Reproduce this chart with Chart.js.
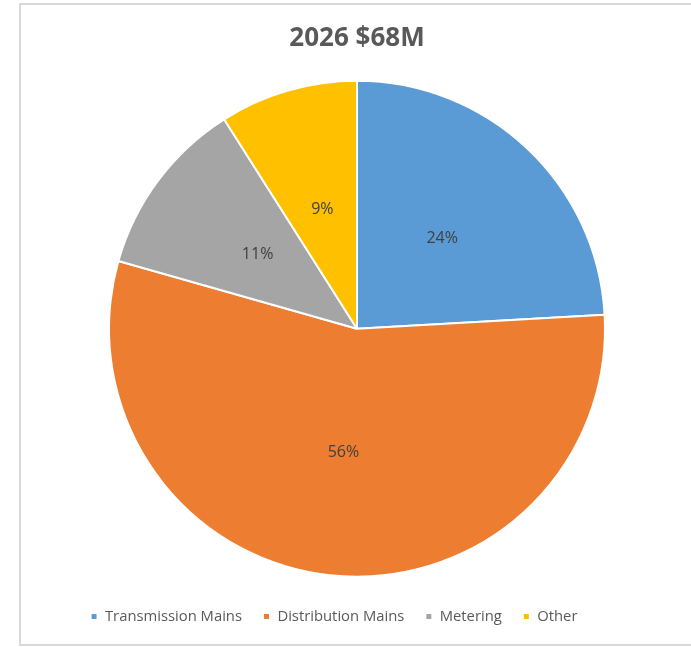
<!DOCTYPE html>
<html>
<head>
<meta charset="utf-8">
<script src="https://cdn.jsdelivr.net/npm/chart.js@4.4.1/dist/chart.umd.min.js"></script>
<style>
  html, body { margin: 0; padding: 0; background: #ffffff; }
  #frame {
    position: absolute; left: 19px; top: 3px;
    width: 672px; height: 639px;
    border: 2px solid #d9d9d9; background: #fff;
  }
  #wrap { position: absolute; left: 0; top: 0; width: 672px; height: 639px; }
</style>
</head>
<body>
<div id="frame"><div id="wrap"><canvas id="c"></canvas></div></div>
<script>
const titleText = "2026 $68M";
const categories = ["Transmission Mains", "Distribution Mains", "Metering", "Other"];
const shares = [24.1, 55.3, 11.6, 9.0];
const shareLabels = ["24%", "56%", "11%", "9%"];
const colors = ["#5B9BD5", "#ED7D31", "#A5A5A5", "#FFC000"];

const FONT = "'Open Sans', 'Noto Sans', sans-serif";

const sliceLabels = {
  id: 'sliceLabels',
  afterDatasetsDraw(chart) {
    const ctx = chart.ctx;
    const meta = chart.getDatasetMeta(0);
    ctx.save();
    ctx.font = "16px " + FONT;
    ctx.fillStyle = "#404040";
    ctx.textAlign = "center";
    ctx.textBaseline = "middle";
    meta.data.forEach((arc, i) => {
      const p = arc.getCenterPoint();
      ctx.fillText(shareLabels[i], p.x, p.y);
    });
    ctx.restore();
  }
};

const legendShift = {
  id: 'legendShift',
  afterLayout(chart) {
    const lg = chart.legend;
    if (lg) { lg.left -= 23; lg.right -= 23; }
  }
};

new Chart(document.getElementById('c'), {
  type: 'pie',
  data: {
    labels: categories,
    datasets: [{
      data: shares,
      backgroundColor: colors,
      borderColor: "#ffffff",
      borderWidth: 2,
      hoverOffset: 0,
      radius: 248
    }]
  },
  options: {
    responsive: true,
    maintainAspectRatio: false,
    animation: false,
    events: [],
    layout: { padding: { top: 0, bottom: 10, left: 0, right: 0 } },
    plugins: {
      tooltip: { enabled: false },
      title: {
        display: true,
        text: titleText,
        color: "#595959",
        font: { family: FONT, size: 26, weight: 'bold' },
        padding: { top: 18, bottom: 15 }
      },
      legend: {
        position: 'bottom',
        labels: {
          color: "#595959",
          font: { family: FONT, size: 14.8 },
          boxWidth: 7,
          boxHeight: 7,
          padding: 21
        }
      }
    }
  },
  plugins: [sliceLabels, legendShift]
});
</script>
</body>
</html>
